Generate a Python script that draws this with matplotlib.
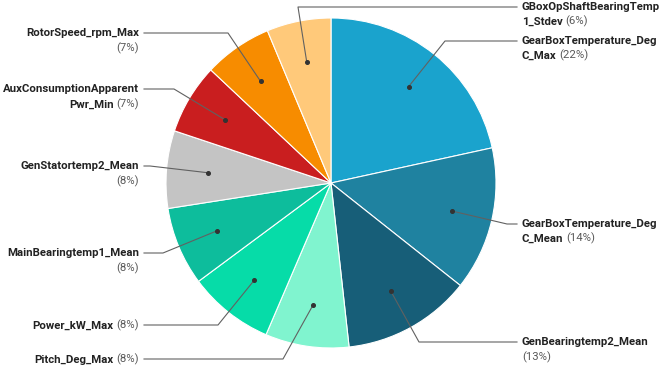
import numpy as np
import matplotlib
matplotlib.use('Agg')
import matplotlib.pyplot as plt

plt.rcParams['font.family'] = ['Roboto', 'DejaVu Sans']

# slices, clockwise from 12 o'clock
names = ['GearBoxTemperature_DegC_Max', 'GearBoxTemperature_DegC_Mean', 'GenBearingtemp2_Mean',
         'Pitch_Deg_Max', 'Power_kW_Max', 'MainBearingtemp1_Mean', 'GenStatortemp2_Mean',
         'AuxConsumptionApparentPwr_Min', 'RotorSpeed_rpm_Max', 'GBoxOpShaftBearingTemp1_Stdev']
values = [21.6, 14.1, 12.6, 8.2, 8.4, 7.7, 7.6, 6.9, 6.7, 6.3]
colors = ['#1aa3cd', '#1f82a0', '#175e78', '#80f4cf', '#06dca8', '#0dbd9c', '#c4c4c4',
          '#c91e1f', '#f78c00', '#ffc97a']

# label layout in pixels (y measured from the top): leader elbow and side
elbows = [(445, 41), (507, 224), (419, 342), (283, 359), (218, 325), (163, 253),
          (150, 166), (174, 89), (228, 33), (298, 7)]
sides = ['R', 'R', 'R', 'L', 'L', 'L', 'L', 'L', 'L', 'R']

W, H = 664, 377
CX, CY, R = 331, 183, 165
FS = 8.2
GAP = 1.9  # points between bold name and percentage
NAME_C = '#222222'
PCT_C = '#5a5a5a'

fig = plt.figure(figsize=(W / 100, H / 100), dpi=100)
ax = fig.add_axes([0, 0, 1, 1])

wedges, _ = ax.pie(values, colors=colors, startangle=90, counterclock=False,
                   center=(CX, H - CY), radius=R,
                   wedgeprops=dict(edgecolor='white', linewidth=0.8))
ax.set_xlim(0, W)
ax.set_ylim(0, H)
ax.set_aspect('equal')
ax.axis('off')

total = sum(values)


def label_lines(name, pct):
    # wrap long names at 22 chars, put the percentage on the last line if it fits
    lines = []
    while len(name) > 22:
        lines.append(name[:22])
        name = name[22:]
    lines.append(name)
    out = [[(l, True)] for l in lines]
    if len(lines[-1]) + len(pct) + 1 <= 20:
        out[-1].append((pct, False))
    else:
        out.append([(pct, False)])
    return out


for i, w in enumerate(wedges):
    mid = np.deg2rad((w.theta1 + w.theta2) / 2)
    dx = CX + 0.75 * R * np.cos(mid)
    dy = (H - CY) + 0.75 * R * np.sin(mid)
    ex, ey = elbows[i]
    ey = H - ey
    end_x = 517 if sides[i] == 'R' else 144
    ax.plot([dx, ex, end_x], [dy, ey, ey], color='#616161', lw=0.8, zorder=3)
    ax.plot(dx, dy, 'o', color='#333333', ms=2.6, zorder=4)

    pct = '(%d%%)' % round(values[i] / total * 100)
    for j, pieces in enumerate(label_lines(names[i], pct)):
        y = ey - 15 * j
        if sides[i] == 'R':
            prev = None
            for txt, bold in pieces:
                kw = dict(fontsize=FS, color=NAME_C if bold else PCT_C,
                          fontweight='bold' if bold else 'normal')
                if prev is None:
                    prev = ax.text(522, y, txt, ha='left', va='center', **kw)
                else:
                    prev = ax.annotate(txt, xy=(1, 0), xycoords=prev, xytext=(GAP, 0),
                                       textcoords='offset points', ha='left', va='bottom', **kw)
        else:
            nxt = None
            for txt, bold in reversed(pieces):
                kw = dict(fontsize=FS, color=NAME_C if bold else PCT_C,
                          fontweight='bold' if bold else 'normal')
                if nxt is None:
                    nxt = ax.text(139, y, txt, ha='right', va='center', **kw)
                else:
                    nxt = ax.annotate(txt, xy=(0, 0), xycoords=nxt, xytext=(-GAP, 0),
                                      textcoords='offset points', ha='right', va='bottom', **kw)

fig.savefig('out.png', dpi=100)
